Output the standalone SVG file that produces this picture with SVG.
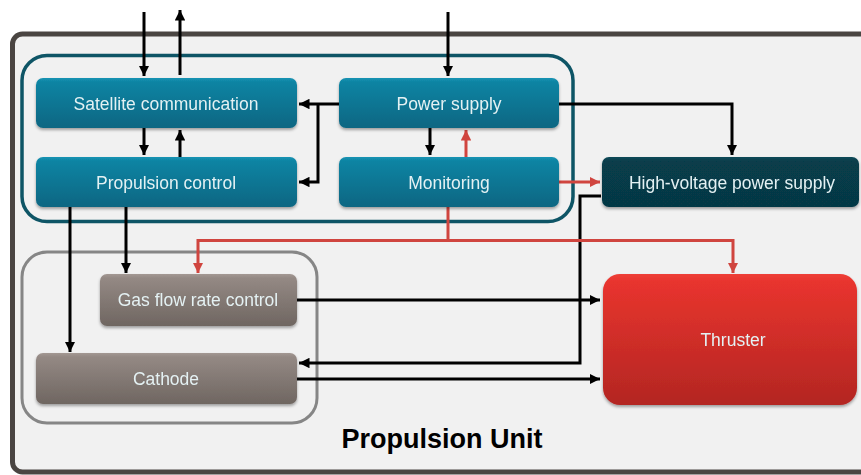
<svg xmlns="http://www.w3.org/2000/svg" width="861" height="475" viewBox="0 0 861 475">
  <defs>
    <linearGradient id="gBlue" x1="0" y1="0" x2="0" y2="1">
      <stop offset="0" stop-color="#1a94b4"/>
      <stop offset="0.08" stop-color="#0c84a3"/>
      <stop offset="1" stop-color="#0a6682"/>
    </linearGradient>
    <linearGradient id="gGray" x1="0" y1="0" x2="0" y2="1">
      <stop offset="0" stop-color="#a39893"/>
      <stop offset="0.08" stop-color="#948984"/>
      <stop offset="1" stop-color="#6f6661"/>
    </linearGradient>
    <linearGradient id="gTeal" x1="0" y1="0" x2="0" y2="1">
      <stop offset="0" stop-color="#0b4b59"/>
      <stop offset="0.08" stop-color="#073e4b"/>
      <stop offset="1" stop-color="#063744"/>
    </linearGradient>
    <linearGradient id="gRed" x1="0" y1="0" x2="0" y2="1">
      <stop offset="0" stop-color="#ee3f38"/>
      <stop offset="0.06" stop-color="#e8342e"/>
      <stop offset="1" stop-color="#b32622"/>
    </linearGradient>
    <filter id="shadow" x="-10%" y="-20%" width="120%" height="150%">
      <feDropShadow dx="0" dy="2" stdDeviation="1.5" flood-color="#000" flood-opacity="0.35"/>
    </filter>
    <marker id="ahK" viewBox="0 0 10 10" refX="10" refY="5" markerWidth="3.5" markerHeight="3.5" markerUnits="strokeWidth" orient="auto">
      <path d="M0,0 L10,5 L0,10 z" fill="#000"/>
    </marker>
    <marker id="ahR" viewBox="0 0 10 10" refX="10" refY="5" markerWidth="3.5" markerHeight="3.5" markerUnits="strokeWidth" orient="auto">
      <path d="M0,0 L10,5 L0,10 z" fill="#d0453f"/>
    </marker>
  </defs>
  <style>
    .lbl { font-family: "Liberation Sans", Arial, sans-serif; font-size: 17.5px; fill: #e4f1f3; text-anchor: middle; }
    .blk { fill: none; stroke: #000; stroke-width: 3; marker-end: url(#ahK); }
    .red { fill: none; stroke: #d0453f; stroke-width: 3; }
    .redA { marker-end: url(#ahR); }
    .node { filter: url(#shadow); }
  </style>

  <rect width="861" height="475" fill="#ffffff"/>

  <!-- Propulsion unit frame -->
  <rect x="12.5" y="34" width="880" height="438" rx="10" fill="#f1f1f1" stroke="#4a4542" stroke-width="5"/>
  <text x="442" y="448" font-family="'Liberation Sans', Arial, sans-serif" font-size="27" font-weight="bold" fill="#000" text-anchor="middle">Propulsion Unit</text>

  <!-- Group outlines -->
  <rect id="group-control" x="22" y="55.5" width="551" height="166" rx="25" fill="none" stroke="#0e5566" stroke-width="3.5"/>
  <rect id="group-feed" x="22" y="252" width="295" height="171" rx="25" fill="none" stroke="#868686" stroke-width="3"/>

  <!-- Connectors -->
  <g id="connectors">
    <path class="blk" d="M144,12 V76"/>
    <path class="blk" d="M180,75 V10"/>
    <path class="blk" d="M144,128 V155"/>
    <path class="blk" d="M180,157 V130"/>
    <path class="blk" d="M339,104 H299"/>
    <path class="blk" d="M318,104 V182 H299"/>
    <path class="blk" d="M448,12 V76"/>
    <path class="blk" d="M430,128 V155"/>
    <path class="blk" d="M559,104 H732 V155"/>
    <path class="blk" d="M601,196 H580 V363 H299"/>
    <path class="blk" d="M70,207 V352"/>
    <path class="blk" d="M126,207 V273"/>
    <path class="blk" d="M297,300 H600"/>
    <path class="blk" d="M297,379 H600"/>
    <path class="red redA" d="M466,157 V130"/>
    <path class="red redA" d="M559,182 H600"/>
    <path class="red" d="M448,207 V240.5"/>
    <path class="red redA" d="M448,240.5 H198 V273"/>
    <path class="red redA" d="M448,240.5 H733 V273"/>
  </g>

  <!-- Nodes -->
  <g id="satellite-communication" class="node">
    <rect x="36" y="78" width="261" height="50" rx="7" fill="url(#gBlue)"/>
    <text class="lbl" x="166" y="110">Satellite communication</text>
  </g>
  <g id="propulsion-control" class="node">
    <rect x="36" y="157" width="261" height="50" rx="7" fill="url(#gBlue)"/>
    <text class="lbl" x="166" y="189">Propulsion control</text>
  </g>
  <g id="power-supply" class="node">
    <rect x="339" y="78" width="220" height="50" rx="7" fill="url(#gBlue)"/>
    <text class="lbl" x="449" y="110">Power supply</text>
  </g>
  <g id="monitoring" class="node">
    <rect x="339" y="157" width="220" height="50" rx="7" fill="url(#gBlue)"/>
    <text class="lbl" x="449" y="189">Monitoring</text>
  </g>
  <g id="high-voltage-power-supply" class="node">
    <rect x="602" y="157" width="257" height="50" rx="7" fill="url(#gTeal)"/>
    <text class="lbl" x="732" y="189">High-voltage power supply</text>
  </g>
  <g id="thruster" class="node">
    <rect x="603" y="274" width="254" height="131" rx="17" fill="url(#gRed)"/>
    <text class="lbl" x="733" y="346">Thruster</text>
  </g>
  <g id="gas-flow-rate-control" class="node">
    <rect x="100" y="274" width="197" height="52" rx="7" fill="url(#gGray)"/>
    <text class="lbl" x="198" y="306">Gas flow rate control</text>
  </g>
  <g id="cathode" class="node">
    <rect x="36" y="353" width="261" height="51" rx="7" fill="url(#gGray)"/>
    <text class="lbl" x="166" y="385">Cathode</text>
  </g>
</svg>
